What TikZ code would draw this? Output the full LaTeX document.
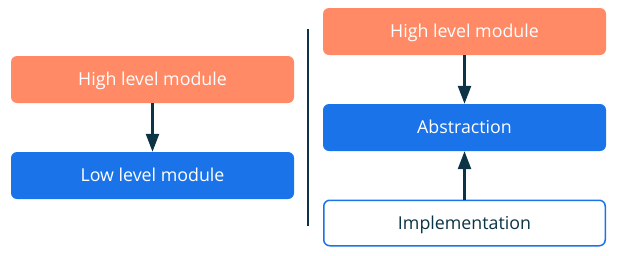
\documentclass[tikz,border=0pt]{standalone}
\usepackage{fontspec}
\setmainfont{Open Sans}
\usetikzlibrary{arrows.meta}
\definecolor{orng}{HTML}{FF8A65}
\definecolor{blu}{HTML}{1A73E8}
\definecolor{dk}{HTML}{0D3346}
\tikzset{
  box/.style={rounded corners=6pt, minimum width=283pt, minimum height=47pt, inner sep=0pt, text height=12.8pt, text depth=0pt, font=\fontsize{17.8}{20}\selectfont},
  hi/.style={box, fill=orng, text=white},
  lo/.style={box, fill=blu, text=white},
  impl/.style={box, fill=white, draw=blu, line width=1.5pt, minimum width=281.5pt, minimum height=45.5pt, text=dk},
  arr/.style={-{Triangle[length=18pt,width=13pt]}, line width=2.5pt, draw=dk},
}
\begin{document}
\begin{tikzpicture}[x=1pt,y=-1pt]
\useasboundingbox (0,0) rectangle (617,255);
\node[hi] (h1) at (152.5,79.5) {High level module};
\node[lo] (l1) at (152.5,175.5) {Low level module};
\draw[arr] (h1.south) -- (l1.north);
\coordinate (dtop) at (308,29);
\coordinate (dbot) at (308,226);
\draw[dk, line width=1.5pt] (dtop) -- (dbot);
\node[hi] (h2) at (464.5,31.5) {High level module};
\node[lo] (ab) at (464.5,127.5) {Abstraction};
\node[impl] (im) at (464.5,223) {Implementation};
\draw[arr] (h2.south) -- (ab.north);
\draw[arr] (im.north) -- (ab.south);
\end{tikzpicture}
\end{document}
